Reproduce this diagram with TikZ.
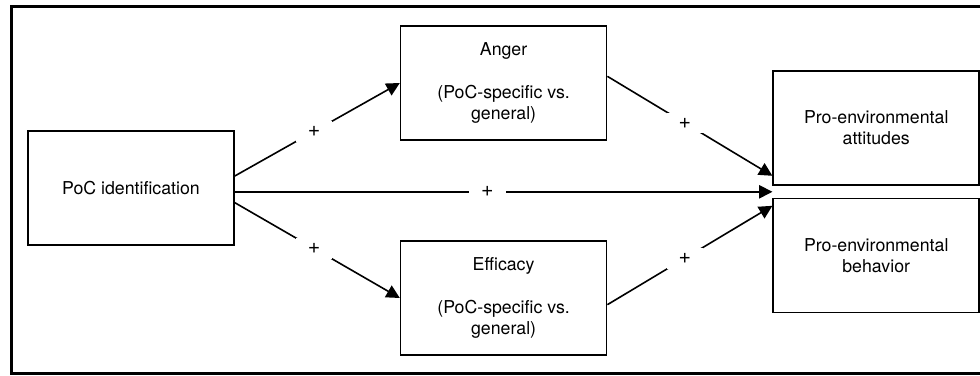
\documentclass[tikz,border=0pt]{standalone}
\usepackage{fontspec}
\setmainfont{TeX Gyre Heros}
\usetikzlibrary{arrows.meta, positioning, calc}

\begin{document}
\begin{tikzpicture}[
    font=\fontsize{13.3}{16}\selectfont,
    box/.style={rectangle, draw, line width=1.2pt, minimum width=154.5pt, minimum height=85.5pt, align=center, inner sep=0pt},
    arrow/.style={-{Triangle[length=10pt, width=10pt]}, line width=1.2pt},
    sign/.style={fill=white, inner xsep=9pt, inner ysep=4pt, font=\fontsize{16}{16}\selectfont}
]

\useasboundingbox (-98.25pt,-140.25pt) rectangle (636.75pt,141pt);
\draw[line width=2.25pt] (700pt,136.1pt) -- (-89.6pt,136.1pt) -- (-89.6pt,-139.1pt) -- (700pt,-139.1pt);

\node[box] (poc) {PoC identification};
\node[box, right=123.75pt of poc, yshift=78.75pt] (anger) {Anger\\[16pt](PoC-specific vs.\\general)};
\node[box, right=123.75pt of poc, yshift=-82.5pt] (efficacy) {Efficacy\\[16pt](PoC-specific vs.\\general)};
\node[box, right=123.75pt of anger, yshift=-33.75pt] (attitudes) {Pro-environmental\\attitudes};
\node[box, below=9pt of attitudes] (behavior) {Pro-environmental\\behavior};

\coordinate (hub) at ($(attitudes.south west)!0.5!(behavior.north west)$);

\draw[arrow] ([yshift=9pt]poc.east) -- node[sign, pos=0.48] {+} (anger.west);
\draw[arrow] ([yshift=-11pt]poc.east) -- node[sign, pos=0.48] {+} (efficacy.west);
\draw[arrow] (poc.east |- hub) -- node[sign, pos=0.47] {+} (hub);
\draw[arrow] ([yshift=5pt]anger.east) -- node[sign, pos=0.47] {+} ([yshift=7.5pt]attitudes.south west);
\draw[arrow] ([yshift=-5pt]efficacy.east) -- node[sign, pos=0.47] {+} ([yshift=-6pt]behavior.north west);

\end{tikzpicture}
\end{document}
